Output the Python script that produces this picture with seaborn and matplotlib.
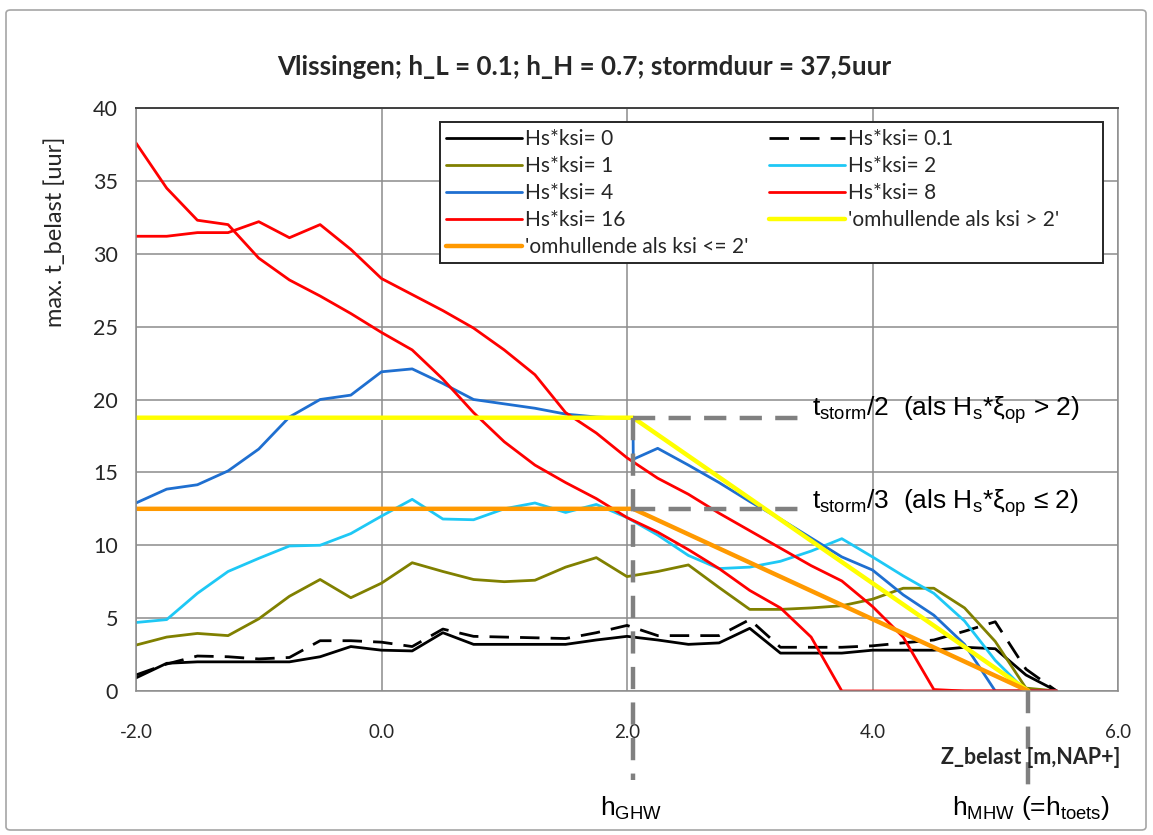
import numpy as np
import pandas as pd
import matplotlib
matplotlib.use("Agg")
import matplotlib.pyplot as plt
import seaborn as sns
from matplotlib.patches import FancyBboxPatch, Rectangle

# --- data ---
z = [-2.0, -1.75, -1.5, -1.25, -1.0, -0.75, -0.5, -0.25, 0.0, 0.25, 0.5, 0.75, 1.0, 1.25, 1.5,
     1.75, 2.0, 2.25, 2.5, 2.75, 3.0, 3.25, 3.5, 3.75, 4.0, 4.25, 4.5, 4.75, 5.0, 5.25, 5.5]

t_ksi0 = [0.9, 1.9, 2.0, 2.0, 2.0, 2.0, 2.35, 3.05, 2.8, 2.75, 4.0, 3.2, 3.2, 3.2, 3.2,
          3.5, 3.75, 3.5, 3.2, 3.3, 4.3, 2.6, 2.6, 2.6, 2.8, 2.8, 2.8, 3.0, 2.9, 1.1, 0.0]
t_ksi01 = [1.1, 1.85, 2.4, 2.35, 2.2, 2.3, 3.45, 3.45, 3.35, 3.05, 4.25, 3.75, 3.7, 3.65, 3.6,
           4.0, 4.5, 3.8, 3.8, 3.8, 4.9, 3.0, 3.0, 3.0, 3.1, 3.3, 3.5, 4.1, 4.75, 1.5, 0.0]
t_ksi1 = [3.15, 3.7, 3.95, 3.8, 4.95, 6.5, 7.65, 6.4, 7.4, 8.8, 8.2, 7.65, 7.5, 7.6, 8.5,
          9.15, 7.85, 8.2, 8.65, 7.1, 5.6, 5.6, 5.7, 5.85, 6.3, 7.05, 7.05, 5.7, 3.4, 0.2, 0.0]
t_ksi2 = [4.7, 4.9, 6.7, 8.2, 9.1, 9.95, 10.0, 10.8, 12.0, 13.15, 11.8, 11.75, 12.5, 12.9, 12.25,
          12.8, 11.9, 10.7, 9.3, 8.4, 8.5, 8.9, 9.6, 10.45, 9.2, 7.9, 6.7, 4.8, 2.1, 0.0, 0.0]
z_ksi4 = [-2.0, -1.75, -1.5, -1.25, -1.0, -0.75, -0.5, -0.25, 0.0, 0.25, 0.5, 0.75, 1.0, 1.25, 1.5,
          1.75, 2.049, 2.051, 2.25, 2.5, 2.75, 3.0, 3.25, 3.5, 3.75, 4.0, 4.25, 4.5, 4.75, 5.0, 5.25, 5.5]
t_ksi4 = [12.9, 13.85, 14.15, 15.1, 16.6, 18.8, 20.0, 20.3, 21.9, 22.1, 21.1, 20.0, 19.7, 19.4, 19.0,
          18.8, 18.7, 15.9, 16.65, 15.5, 14.3, 13.0, 11.8, 10.5, 9.2, 8.3, 6.6, 5.2, 3.2, 0.0, 0.0, 0.0]
t_ksi8 = [31.2, 31.2, 31.45, 31.45, 32.2, 31.1, 32.0, 30.3, 28.3, 27.2, 26.1, 24.9, 23.4, 21.7, 19.1,
          17.7, 16.0, 14.6, 13.5, 12.2, 11.0, 9.8, 8.6, 7.55, 5.8, 3.7, 0.1, 0.0, 0.0, 0.0, 0.0]
t_ksi16 = [37.6, 34.5, 32.3, 32.0, 29.7, 28.2, 27.1, 25.9, 24.6, 23.4, 21.4, 19.1, 17.1, 15.5, 14.3,
           13.2, 11.9, 10.9, 9.7, 8.4, 6.9, 5.7, 3.7, 0.0, 0.0, 0.0, 0.0, 0.0, 0.0, 0.0, 0.0]

t_storm = 37.5
h_ghw = 2.05
h_mhw = 5.27
z_env = [-2.0, h_ghw, h_mhw]
t_env_hi = [t_storm / 2, t_storm / 2, 0.0]
t_env_lo = [t_storm / 3, t_storm / 3, 0.0]

# --- style ---
sns.set_theme(style="white")
plt.rcParams["font.family"] = ["Lato", "DejaVu Sans"]
plt.rcParams["mathtext.fontset"] = "custom"
plt.rcParams["mathtext.rm"] = "Liberation Sans"
plt.rcParams["mathtext.it"] = "Liberation Sans"

fig = plt.figure(figsize=(11.53, 8.35), dpi=100)
fig.patch.set_facecolor("white")
fig.patches.append(FancyBboxPatch((6 / 1153, 5 / 835), 1140 / 1153, 820 / 835,
                                  boxstyle="round,pad=0,rounding_size=0.004",
                                  transform=fig.transFigure, fill=False,
                                  edgecolor="#a6a6a6", linewidth=1.2))
ax = fig.add_axes([136 / 1153, 1 - 691 / 835, 982 / 1153, 583 / 835])

lw = 2.0
h0 = sns.lineplot(x=z, y=t_ksi0, color="black", lw=lw, ax=ax, label="Hs*ksi= 0").lines[-1]
h01 = sns.lineplot(x=z, y=t_ksi01, color="black", lw=lw, linestyle=(0, (7, 4)), ax=ax,
                   label="Hs*ksi= 0.1").lines[-1]
h1 = sns.lineplot(x=z, y=t_ksi1, color="#808000", lw=lw, ax=ax, label="Hs*ksi= 1").lines[-1]
h2 = sns.lineplot(x=z, y=t_ksi2, color="#1ec8f5", lw=lw, ax=ax, label="Hs*ksi= 2").lines[-1]
h4 = sns.lineplot(x=z_ksi4, y=t_ksi4, color="#1f6fd0", lw=lw, ax=ax, label="Hs*ksi= 4").lines[-1]
h8 = sns.lineplot(x=z, y=t_ksi8, color="#ff0000", lw=lw, ax=ax, label="Hs*ksi= 8").lines[-1]
h16 = sns.lineplot(x=z, y=t_ksi16, color="#ff0000", lw=lw, ax=ax, label="Hs*ksi= 16").lines[-1]
hy = sns.lineplot(x=z_env, y=t_env_hi, color="#ffff00", lw=3.2, ax=ax,
                  label="'omhullende als ksi > 2'").lines[-1]
ho = sns.lineplot(x=z_env, y=t_env_lo, color="#ff9900", lw=3.2, ax=ax,
                  label="'omhullende als ksi <= 2'").lines[-1]

# grey helper lines
gkw = dict(color="#808080", lw=3.2, linestyle=(0, (5, 3)), clip_on=False, zorder=5)
ax.plot([h_ghw, h_ghw], [t_storm / 2, -6.1], **gkw)
ax.plot([h_ghw, 3.45], [t_storm / 2, t_storm / 2], **gkw)
ax.plot([h_ghw, 3.45], [t_storm / 3, t_storm / 3], **gkw)
ax.plot([h_mhw, h_mhw], [0, -6.5], **gkw)

ax.set_xlim(-2, 6)
ax.set_ylim(0, 40)
ax.set_xticks([-2, 0, 2, 4, 6])
ax.set_xticklabels(["-2.0", "0.0", "2.0", "4.0", "6.0"])
ax.set_yticks(range(0, 41, 5))
ax.grid(True, color="#8c8c8c", lw=1.1)
for s in ["left", "right", "bottom"]:
    ax.spines[s].set_color("#8c8c8c")
    ax.spines[s].set_linewidth(1.1)
ax.spines["top"].set_color("#404040")
ax.spines["top"].set_linewidth(1.4)
ax.tick_params(axis="both", direction="out", length=6, width=1.1, color="#8c8c8c",
               labelcolor="#262626")
ax.tick_params(axis="x", labelsize=13.5, pad=18)
ax.tick_params(axis="y", labelsize=15.5, pad=7)
ax.set_xlabel("")
ax.set_ylabel("")

# legend box drawn like the spreadsheet one
ax.add_patch(Rectangle((0.3096, 0.7341), 0.6751, 0.2419, transform=ax.transAxes,
                       facecolor="white", edgecolor="#262626", lw=1.4, zorder=9))
order = [h0, h1, h4, h16, ho, h01, h2, h8, hy]
leg = ax.legend(handles=order, labels=[h.get_label() for h in order], ncol=2,
                loc="upper left", bbox_to_anchor=(0.309, 0.974), borderaxespad=0,
                fontsize=15, handlelength=3.65, handletextpad=0.15, labelspacing=0.33,
                borderpad=0.3, columnspacing=1.0, frameon=False)
leg.set_zorder(10)

fig.text(0.507, 1 - 67 / 835, "Vlissingen; h_L = 0.1; h_H = 0.7; stormduur = 37,5uur",
         ha="center", va="center", fontsize=18.7, fontweight="bold", color="#262626")
fig.text(55 / 1153, 1 - 232 / 835, "max. t_belast [uur]", rotation=90, ha="center",
         va="center", fontsize=17, color="#262626")
fig.text(1120 / 1153, 1 - 757 / 835, "Z_belast [m,NAP+]", ha="right", va="center",
         fontsize=15.5, fontweight="bold", color="#262626")

afont = dict(family=["Liberation Sans", "DejaVu Sans"], fontsize=19, color="black")
fig.text(812 / 1153, 1 - 410 / 835,
         r"t$_{\rm storm}$/2  (als H$_{\rm s}$*ξ$_{\rm op}$ > 2)", ha="left", va="center", **afont)
fig.text(812 / 1153, 1 - 503 / 835,
         r"t$_{\rm storm}$/3  (als H$_{\rm s}$*ξ$_{\rm op}$ ≤ 2)", ha="left", va="center", **afont)
fig.text(600 / 1153, 1 - 808 / 835, r"h$_{\rm GHW}$", ha="left", va="center", **afont)
fig.text(952 / 1153, 1 - 808 / 835, r"h$_{\rm MHW}$ (=h$_{\rm toets}$)", ha="left",
         va="center", **afont)

fig.savefig("out.png", dpi=100)
